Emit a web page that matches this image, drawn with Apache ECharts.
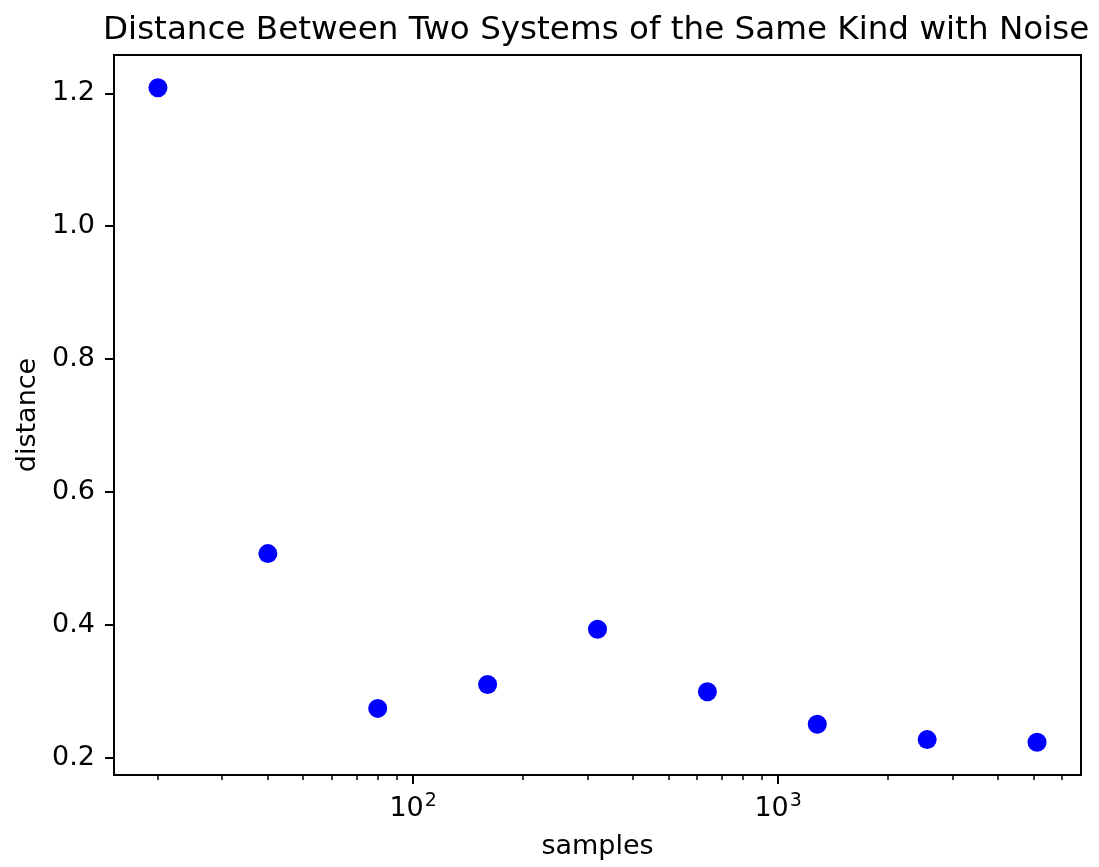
<!DOCTYPE html>
<html>
<head>
<meta charset="utf-8">
<script src="https://cdn.jsdelivr.net/npm/echarts@6/dist/echarts.min.js"></script>
<style>
html,body{margin:0;padding:0;background:#fff;}
#chart{width:1099px;height:867px;}
</style>
</head>
<body>
<div id="chart"></div>
<script>
// Data
const samples = [20, 40, 80, 160, 320, 640, 1280, 2560, 5120];
const distance = [1.2084, 0.507, 0.274, 0.310, 0.393, 0.299, 0.250, 0.227, 0.223];
const xMajorTicks = [100, 1000];
const xMinorTicks = [20, 30, 40, 50, 60, 70, 80, 90, 200, 300, 400, 500, 600, 700, 800, 900, 2000, 3000, 4000, 5000, 6000];
const yTicks = [0.2, 0.4, 0.6, 0.8, 1.0, 1.2];
const titleText = 'Distance Between Two Systems of the Same Kind with Noise';
const xName = 'samples';
const yName = 'distance';

const FONT = 'DejaVu Sans';
const chart = echarts.init(document.getElementById('chart'), null, {renderer: 'canvas'});
const xMin = 15.157, xMax = 6755;
const yMin = 0.1737, yMax = 1.2577;

chart.setOption({
  animation: false,
  backgroundColor: '#ffffff',
  title: {
    text: titleText,
    left: 98,
    top: 9,
    textStyle: {fontFamily: FONT, fontSize: 32.6, fontWeight: 'normal', color: '#000'}
  },
  grid: {
    left: 114, right: 18, top: 55, bottom: 92,
    show: true, borderColor: '#000', borderWidth: 2, backgroundColor: 'transparent'
  },
  xAxis: [
    {
      type: 'log', logBase: 10, min: xMin, max: xMax, position: 'bottom',
      name: xName, nameLocation: 'middle', nameGap: 58,
      nameTextStyle: {fontFamily: FONT, fontSize: 27, color: '#000'},
      axisLine: {show: true, onZero: false, lineStyle: {color: '#000', width: 2}},
      axisTick: {show: true, customValues: xMajorTicks, length: 9, lineStyle: {color: '#000', width: 2}},
      axisLabel: {
        show: true, customValues: xMajorTicks, margin: 17,
        fontFamily: FONT, fontSize: 27, color: '#000',
        formatter: function (v) { return '{b|10}{s|' + Math.round(Math.log10(v)) + '}'; },
        rich: {
          b: {fontFamily: FONT, fontSize: 27, color: '#000'},
          s: {fontFamily: FONT, fontSize: 19, color: '#000', padding: [0, 0, 14, 1]}
        }
      },
      splitLine: {show: false},
      minorTick: {show: false}
    },
    {
      type: 'log', logBase: 10, min: xMin, max: xMax, position: 'bottom',
      axisLine: {show: false, onZero: false},
      axisTick: {show: true, customValues: xMinorTicks, length: 5, lineStyle: {color: '#000', width: 1.5}},
      axisLabel: {show: false},
      splitLine: {show: false}
    }
  ],
  yAxis: {
    type: 'value', min: yMin, max: yMax,
    name: yName, nameLocation: 'middle', nameGap: 70,
    nameTextStyle: {fontFamily: FONT, fontSize: 27, color: '#000'},
    axisLine: {show: true, onZero: false, lineStyle: {color: '#000', width: 2}},
    axisTick: {show: true, customValues: yTicks, length: 9, lineStyle: {color: '#000', width: 2}},
    axisLabel: {
      show: true, customValues: yTicks, margin: 19,
      fontFamily: FONT, fontSize: 27, color: '#000',
      formatter: function (v) { return v.toFixed(1); }
    },
    splitLine: {show: false}
  },
  series: [{
    type: 'scatter',
    xAxisIndex: 0,
    data: samples.map((s, i) => [s, distance[i]]),
    symbol: 'circle',
    symbolSize: 19,
    itemStyle: {color: '#0000ff', opacity: 1}
  }]
});
</script>
</body>
</html>
